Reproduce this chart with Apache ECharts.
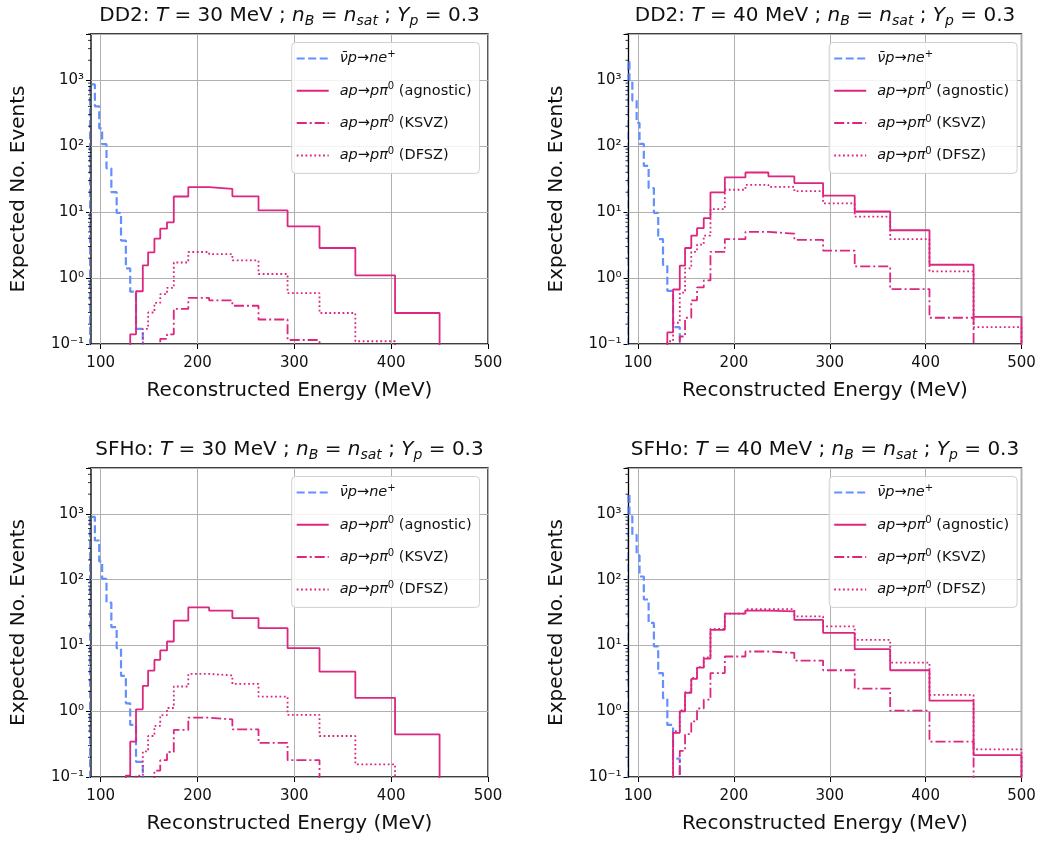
<!DOCTYPE html>
<html><head><meta charset="utf-8">
<script src="https://cdn.jsdelivr.net/npm/echarts@6/dist/echarts.min.js"></script>
<style>html,body{margin:0;padding:0;background:#fff}#c{width:1046px;height:843px}</style>
</head><body><div id="c"></div>
<script>
// ---------------- data ----------------
const binEdges = [88, 91, 94, 98.5, 101.5, 106, 111, 116.5, 121, 126, 130.5, 136.5, 143.5, 149, 155.5, 161.5, 168.5, 175.5, 190.5, 212, 236, 263, 293, 326, 363, 404, 450, 500];
const nuStart = 0;   // first edge index of the neutrino arrays
const axStart = 9;   // first edge index of the axion arrays

const panelTitles = [
  'DD2: {it|T} = 30 MeV ; {it|n}{sub|B} = {it|n}{sub|sat} ; {it|Y}{sub|p} = 0.3',
  'DD2: {it|T} = 40 MeV ; {it|n}{sub|B} = {it|n}{sub|sat} ; {it|Y}{sub|p} = 0.3',
  'SFHo: {it|T} = 30 MeV ; {it|n}{sub|B} = {it|n}{sub|sat} ; {it|Y}{sub|p} = 0.3',
  'SFHo: {it|T} = 40 MeV ; {it|n}{sub|B} = {it|n}{sub|sat} ; {it|Y}{sub|p} = 0.3'
];

const nuDD2T30   = [860, 860, 400, 185, 107, 46, 20, 9.7, 3.7, 1.4, 0.62, 0.17];
const nuDD2T40   = [1900, 1000, 490, 225, 108, 50, 23, 9.7, 3.9, 1.58, 0.64, 0.18];
const nuSFHoT30  = [900, 900, 395, 190, 103, 45, 19, 9.1, 3.45, 1.32, 0.62, 0.17];
const nuSFHoT40  = [1970, 920, 482, 235, 112, 50, 22, 9.7, 3.8, 1.58, 0.62, 0.19];

const agnDD2T30  = [0, 0.14, 0.63, 1.56, 2.45, 3.95, 5.6, 7.0, 17.2, 23.8, 22.5, 17.3, 10.6, 6.07, 2.85, 1.1, 0.295, 0];
const ksvzDD2T30 = [0, 0, 0, 0, 0, 0, 0.12, 0.14, 0.34, 0.5, 0.46, 0.38, 0.235, 0.115, 0, 0, 0, 0];
const dfszDD2T30 = [0, 0, 0, 0.17, 0.3, 0.42, 0.57, 0.71, 1.72, 2.48, 2.3, 1.85, 1.15, 0.59, 0.295, 0.11, 0, 0];

const agnDD2T40  = [0, 0.15, 0.67, 1.54, 2.85, 4.4, 5.7, 8.1, 19.9, 33.5, 39.8, 34.7, 27.5, 17.7, 10.2, 5.3, 1.59, 0.257];
const ksvzDD2T40 = [0, 0, 0, 0.13, 0.25, 0.46, 0.72, 0.92, 2.5, 3.9, 5.0, 4.7, 3.8, 2.6, 1.5, 0.68, 0.25, 0];
const dfszDD2T40 = [0, 0.11, 0.21, 0.6, 1.4, 2.5, 3.2, 4.4, 11.1, 21.8, 25.9, 24.1, 20.7, 13.5, 8.5, 3.9, 1.26, 0.18];

const agnSFHoT30  = [0.105, 0.345, 1.07, 2.43, 4.16, 6.05, 8.4, 11.5, 23.8, 37.9, 34, 26.1, 18.4, 9.1, 4.0, 1.6, 0.446, 0];
const ksvzSFHoT30 = [0, 0, 0, 0, 0, 0.125, 0.18, 0.24, 0.52, 0.8, 0.75, 0.53, 0.33, 0.18, 0, 0, 0, 0];
const dfszSFHoT30 = [0, 0, 0.105, 0.245, 0.42, 0.6, 0.87, 1.12, 2.38, 3.7, 3.5, 2.6, 1.67, 0.88, 0.42, 0.156, 0, 0];

const agnSFHoT40  = [0, 0, 0.47, 1.0, 1.9, 3.1, 4.6, 6.3, 17.3, 30.5, 34, 33, 24.5, 15.5, 8.8, 4.2, 1.45, 0.215];
const ksvzSFHoT40 = [0, 0, 0, 0.25, 0.45, 0.7, 1.1, 1.5, 3.8, 6.8, 8.1, 7.7, 5.9, 4.2, 2.2, 1.02, 0.345, 0];
const dfszSFHoT40 = [0, 0, 0.5, 1.03, 1.95, 3.2, 4.7, 6.6, 17.8, 30.5, 35.7, 35.7, 27.7, 19.5, 12.2, 5.5, 1.77, 0.264];

const xTickValues = [100, 200, 300, 400, 500];
const X_MIN = 90, X_MAX = 500, Y_MIN = 0.1, Y_MAX = 5000;

const seriesNames = ['nu', 'agn', 'ksvz', 'dfsz'];
const legendLabels = {
  nu:   '{it|ν̄p}{r|→}{it|ne}{sup|+}',
  agn:  '{it|ap}{r|→}{it|pπ}{sup|0}{r| (agnostic)}',
  ksvz: '{it|ap}{r|→}{it|pπ}{sup|0}{r| (KSVZ)}',
  dfsz: '{it|ap}{r|→}{it|pπ}{sup|0}{r| (DFSZ)}'
};

const panels = [
  {nu: nuDD2T30,  agn: agnDD2T30,  ksvz: ksvzDD2T30,  dfsz: dfszDD2T30},
  {nu: nuDD2T40,  agn: agnDD2T40,  ksvz: ksvzDD2T40,  dfsz: dfszDD2T40},
  {nu: nuSFHoT30, agn: agnSFHoT30, ksvz: ksvzSFHoT30, dfsz: dfszSFHoT30},
  {nu: nuSFHoT40, agn: agnSFHoT40, ksvz: ksvzSFHoT40, dfsz: dfszSFHoT40}
];

// ---------------- styling / layout ----------------
const FONT = 'DejaVu Sans';
const BLUE = '#648FFF', PINK = '#DC267F';
const FLOOR = 1e-4;
const grids = [
  {left: 91,    top: 34,  width: 397, height: 310},
  {left: 628.5, top: 34,  width: 393, height: 310},
  {left: 91,    top: 468, width: 397, height: 309},
  {left: 628.5, top: 468, width: 393, height: 309}
];
const lineStyles = {
  nu:   {color: BLUE, width: 2.2, type: [8, 3.5]},
  agn:  {color: PINK, width: 1.8, type: 'solid'},
  ksvz: {color: PINK, width: 1.8, type: [10, 3, 2, 3]},
  dfsz: {color: PINK, width: 1.8, type: [1.8, 2.6]}
};

function histPoints(startIdx, vals) {
  const v = vals.map(x => (x > 0 ? x : FLOOR));
  const pts = [[binEdges[startIdx], FLOOR]];
  for (let i = 0; i < v.length; i++) pts.push([binEdges[startIdx + i], v[i]]);
  const endEdge = binEdges[startIdx + v.length];
  pts.push([endEdge, v[v.length - 1]]);
  pts.push([endEdge, FLOOR]);
  return pts;
}

const supMap = {'-': '⁻', '0': '⁰', '1': '¹', '2': '²', '3': '³', '4': '⁴', '5': '⁵'};
function powLabel(v) {
  const e = Math.log10(v);
  const r = Math.round(e);
  if (Math.abs(e - r) > 1e-6) return '';
  return '10' + String(r).split('').map(c => supMap[c]).join('');
}

const option = {
  animation: false,
  backgroundColor: '#fff',
  textStyle: {fontFamily: FONT},
  title: [], grid: [], xAxis: [], yAxis: [], legend: [], series: []
};

grids.forEach((g, gi) => {
  option.grid.push({left: g.left, top: g.top, width: g.width, height: g.height, show: true,
    borderColor: '#000', borderWidth: 1.3, backgroundColor: 'transparent'});
  option.title.push({
    text: panelTitles[gi], left: g.left + g.width / 2, top: g.top - 30, textAlign: 'center', padding: 0,
    textStyle: {fontFamily: FONT, fontSize: 20, fontWeight: 'normal', color: '#111', lineHeight: 24,
      rich: {
        it: {fontFamily: FONT, fontSize: 20, fontStyle: 'italic', color: '#111', lineHeight: 24},
        sub: {fontFamily: FONT, fontSize: 14, fontStyle: 'italic', color: '#111', lineHeight: 14, verticalAlign: 'bottom'}
      }}
  });
  option.xAxis.push({
    type: 'value', gridIndex: gi, min: X_MIN, max: X_MAX,
    name: 'Reconstructed Energy (MeV)', nameLocation: 'middle', nameGap: 37,
    nameTextStyle: {fontFamily: FONT, fontSize: 20, color: '#111'},
    axisLine: {show: false, onZero: false},
    axisTick: {show: true, length: 5, customValues: xTickValues, lineStyle: {color: '#000', width: 1}},
    axisLabel: {show: true, fontFamily: FONT, fontSize: 15, color: '#111', margin: 12, customValues: xTickValues,
      formatter: v => (v === X_MIN ? '' : String(v))},
    splitLine: {show: true, lineStyle: {color: '#b0b0b0', width: 1}}
  });
  option.yAxis.push({
    type: 'log', logBase: 10, gridIndex: gi, min: Y_MIN, max: Y_MAX,
    name: 'Expected No. Events', nameLocation: 'middle', nameGap: 62,
    nameTextStyle: {fontFamily: FONT, fontSize: 20, color: '#111'},
    axisLine: {show: false, onZero: false},
    axisTick: {show: true, length: 5, lineStyle: {color: '#000', width: 1}},
    axisLabel: {show: true, fontFamily: FONT, fontSize: 15, color: '#111', margin: 7, formatter: powLabel},
    splitLine: {show: true, lineStyle: {color: '#b0b0b0', width: 1}}
  });
  option.legend.push({
    orient: 'vertical', left: g.left + 200.7, top: g.top + 8.5,
    itemWidth: 32, itemHeight: 14, itemGap: 14.3,
    itemStyle: {opacity: 0, borderWidth: 0},
    padding: [7, 8, 9, 4],
    backgroundColor: 'rgba(255,255,255,0.85)', borderColor: '#d0d0d0', borderWidth: 1, borderRadius: 4,
    data: seriesNames,
    formatter: name => legendLabels[name],
    textStyle: {fontFamily: FONT, fontSize: 14.5, color: '#111', lineHeight: 18, padding: [0, 0, 0, 6],
      rich: {
        it: {fontFamily: FONT, fontSize: 14.5, fontStyle: 'italic', color: '#111', lineHeight: 18},
        r: {fontFamily: FONT, fontSize: 14.5, color: '#111', lineHeight: 18},
        sup: {fontFamily: FONT, fontSize: 10, color: '#111', lineHeight: 10, verticalAlign: 'top'}
      }}
  });
  const p = panels[gi];
  seriesNames.forEach(name => {
    const start = name === 'nu' ? nuStart : axStart;
    option.series.push({
      type: 'line', name: name, xAxisIndex: gi, yAxisIndex: gi,
      step: 'end', symbol: 'none', showSymbol: false, clip: true,
      lineStyle: lineStyles[name], itemStyle: {color: lineStyles[name].color},
      data: histPoints(start, p[name]), z: name === 'nu' ? 2 : 3
    });
  });
  // minor log ticks on the y axis
  option.series.push({
    type: 'custom', xAxisIndex: gi, yAxisIndex: gi, silent: true, clip: false, z: 6,
    data: [[X_MIN, 1]],
    renderItem: function (params, api) {
      const cs = params.coordSys;
      const children = [];
      for (let e = -1; e <= 3; e++) {
        for (let k = 2; k <= 9; k++) {
          const v = k * Math.pow(10, e);
          if (v > Y_MAX) continue;
          const y = api.coord([X_MIN, v])[1];
          children.push({type: 'line', shape: {x1: cs.x - 3, y1: y, x2: cs.x, y2: y},
            style: {stroke: '#000', lineWidth: 0.8}});
        }
      }
      return {type: 'group', children: children};
    }
  });
});

const chart = echarts.init(document.getElementById('c'), null, {renderer: 'canvas'});
chart.setOption(option);
</script>
</body></html>
